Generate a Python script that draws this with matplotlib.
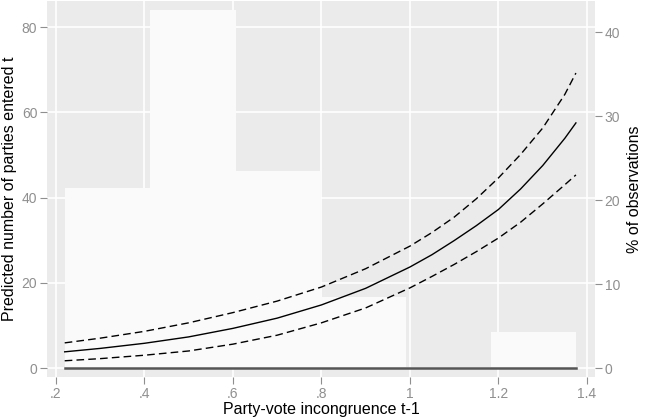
import matplotlib
matplotlib.use('Agg')
import matplotlib.pyplot as plt
import numpy as np

plt.rcParams['font.family'] = ['Liberation Sans', 'DejaVu Sans']

# histogram of incongruence (percent of observations)
bin_left = [0.221, 0.4135, 0.606, 0.7985, 0.991, 1.1835]
bin_width = 0.1925
pct_obs = [21.4, 42.6, 23.5, 8.5, 0.0, 4.3]

# predicted number of parties with 95% CI
x_pred = [0.22, 0.3, 0.4, 0.5, 0.6, 0.7, 0.8, 0.9, 1.0, 1.05, 1.1, 1.15,
          1.2, 1.25, 1.3, 1.35, 1.375]
pred   = [3.8, 4.6, 5.8, 7.3, 9.3, 11.7, 14.8, 18.7, 23.7, 26.6, 29.9, 33.4,
          37.2, 42.0, 47.5, 53.9, 57.5]
upper  = [5.9, 7.0, 8.6, 10.6, 13.0, 15.7, 19.0, 23.3, 28.6, 31.8, 35.4, 39.7,
          44.6, 50.1, 56.3, 64.2, 69.2]
lower  = [1.7, 2.2, 3.0, 4.0, 5.6, 7.7, 10.6, 14.1, 18.8, 21.5, 24.3, 27.3,
          30.5, 34.2, 38.5, 43.0, 45.3]

xticks = [0.2, 0.4, 0.6, 0.8, 1.0, 1.2, 1.4]
xticklabels = ['.2', '.4', '.6', '.8', '1', '1.2', '1.4']
left_ticks = [0, 20, 40, 60, 80]
right_ticks = [0, 10, 20, 30, 40]

left_lim = (-2.11, 86.1)
right_lim = (-1.07, 43.7)
tick_col = '#8f8f8f'

fig = plt.figure(figsize=(6.5, 4.19), dpi=100)
ax = fig.add_axes([0.0723, 0.1002, 0.843, 0.8974])
ax.set_facecolor('#EBEBEB')
ax2 = ax.twinx()
ax2.patch.set_visible(False)

# white grid on the background axis, at the left-scale positions
def to_right(v):
    return (v - left_lim[0]) / (left_lim[1] - left_lim[0]) * (right_lim[1] - right_lim[0]) + right_lim[0]

for xv in xticks:
    ax.axvline(xv, color='white', lw=1.2, zorder=1)
for yv in left_ticks:
    ax.axhline(to_right(yv), color='white', lw=1.2, zorder=1)

# bars on the primary axis (right-hand % scale)
ax.bar(bin_left, pct_obs, width=bin_width, align='edge', color='#FAFAFA',
       edgecolor='none', zorder=2)
ax.set_ylim(*right_lim)
ax.set_yticks(right_ticks)
ax.yaxis.tick_right()
ax.yaxis.set_label_position('right')
ax.set_ylabel('% of observations', fontsize=11.5, labelpad=5)

# curves on the twin axis (left-hand scale)
ax2.plot(x_pred, pred, color='black', lw=1.0, zorder=3)
ax2.plot(x_pred, upper, color='black', lw=1.0, ls=(0, (5.5, 3)), zorder=3)
ax2.plot(x_pred, lower, color='black', lw=1.0, ls=(0, (5.5, 3)), zorder=3)
ax2.plot([x_pred[0], x_pred[-1]], [0, 0], color='#555555', lw=1.8, zorder=3)
ax2.set_ylim(*left_lim)
ax2.set_yticks(left_ticks)
ax2.yaxis.tick_left()
ax2.yaxis.set_label_position('left')
ax2.set_ylabel('Predicted number of parties entered t', fontsize=11.5, labelpad=3)

ax.set_xlim(0.18, 1.418)
ax.set_xticks(xticks)
ax.set_xticklabels(xticklabels)
ax.set_xlabel('Party-vote incongruence t-1', fontsize=11.5, labelpad=1)

for a in (ax, ax2):
    for s in a.spines.values():
        s.set_visible(False)
    a.tick_params(axis='both', colors=tick_col, labelsize=10, length=5, width=0.8, pad=2)

plt.savefig('out.png', dpi=100)
